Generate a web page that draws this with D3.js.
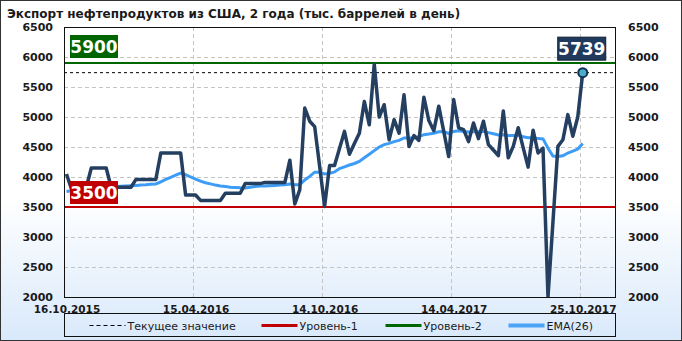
<!DOCTYPE html>
<html>
<head>
<meta charset="utf-8">
<script src="https://cdn.jsdelivr.net/npm/d3@7"></script>
<style>
  body { margin: 0; background: #fff; }
  text { font-family: 'DejaVu Sans', sans-serif; }
</style>
</head>
<body>
<div id="chart"></div>
<script>
// weekly export values, thousand barrels per day
const exportValues = [
  4050, 3800, 3830, 3830, 3830, 4150, 4150, 4150, 4150, 3830,
  3830, 3830, 3830, 3830, 3960, 3960, 3960, 3960, 3960, 4400,
  4400, 4400, 4400, 4400, 3700, 3700, 3700, 3610, 3610, 3610,
  3610, 3610, 3730, 3730, 3730, 3730, 3890, 3890, 3890, 3890,
  3910, 3910, 3910, 3910, 3910, 4280, 3550, 3790, 5150, 4930,
  4840, 4180, 3510, 4190, 4190, 4475, 4760, 4380, 4560, 4730,
  5260, 4870, 5880, 5000, 5205, 4620, 4955, 4730, 5370, 4510,
  4690, 4610, 5330, 4940, 4770, 5180, 4760, 4340, 5290, 4820,
  4790, 4590, 4900, 4640, 4930, 4540, 4450, 4355, 5100, 4320,
  4510, 4820, 4490, 4165, 4780, 4400, 4480, 2000, 3250, 4510,
  4620, 5040, 4680, 5000, 5739
]

// EMA(26) as drawn on the chart
const emaValues = [
  3760, 3770, 3780, 3790, 3800, 3810, 3820, 3830, 3840, 3840,
  3840, 3845, 3850, 3855, 3860, 3865, 3870, 3880, 3885, 3920,
  3960, 3995, 4030, 4065, 4040, 4000, 3965, 3930, 3905, 3885,
  3865, 3850, 3840, 3830, 3825, 3820, 3818, 3830, 3840, 3850,
  3850, 3855, 3860, 3865, 3870, 3885, 3870, 3870, 3950, 4010,
  4080, 4080, 4050, 4060, 4085, 4140, 4170, 4200, 4225, 4260,
  4320, 4380, 4440, 4500, 4540, 4560, 4590, 4610, 4650, 4650,
  4650, 4670, 4705, 4715, 4730, 4755, 4760, 4725, 4760, 4770,
  4760, 4750, 4755, 4755, 4760, 4740, 4720, 4700, 4705, 4690,
  4690, 4700, 4670, 4655, 4660, 4640, 4635, 4480, 4350, 4340,
  4355, 4400, 4430, 4465, 4560
]

const tickIndex = [0, 26, 52, 78, 104]
const tickLabels = ['16.10.2015', '15.04.2016', '14.10.2016', '14.04.2017', '25.10.2017']
const yTicks = [2000, 2500, 3000, 3500, 4000, 4500, 5000, 5500, 6000, 6500]

const level1 = 3500
const level2 = 5900
const current = exportValues[exportValues.length - 1]

const title = 'Экспорт нефтепродуктов из США, 2 года (тыс. баррелей в день)'
const legendItems = ['Текущее значение', 'Уровень-1', 'Уровень-2', 'EMA(26)']

const W = 682
const H = 341
const margin = { top: 27, left: 64, right: 67, bottom: 44 }
const width = W - margin.left - margin.right
const height = H - margin.top - margin.bottom

const root = d3
  .select('#chart')
  .append('svg')
  .attr('width', W)
  .attr('height', H)

// background gradient
const grad = root
  .append('defs')
  .append('linearGradient')
  .attr('id', 'bg')
  .attr('x1', 0)
  .attr('y1', 0)
  .attr('x2', 0)
  .attr('y2', 1)
grad.append('stop').attr('offset', '0.58').attr('stop-color', '#ffffff')
grad.append('stop').attr('offset', '1').attr('stop-color', '#d9e9fb')

root
  .select('defs')
  .append('clipPath')
  .attr('id', 'plotclip')
  .append('rect')
  .attr('width', width)
  .attr('height', height + 1)

root
  .append('rect')
  .attr('x', 0.5)
  .attr('y', 0.5)
  .attr('width', W - 1)
  .attr('height', H - 1)
  .attr('fill', 'url(#bg)')
  .attr('stroke', '#333')

root
  .append('text')
  .attr('x', 7)
  .attr('y', 18)
  .attr('font-family', "'DejaVu Sans Condensed', 'DejaVu Sans', sans-serif")
  .attr('font-weight', 'bold')
  .attr('font-size', 12)
  .attr('fill', '#1a1a1a')
  .text(title)

const svg = root
  .append('g')
  .attr('transform', 'translate(' + margin.left + ',' + margin.top + ')')

// scales
const x = d3.scaleLinear().domain([0, 111]).range([0, width])
const y = d3.scaleLinear().domain([2000, 6500]).range([height, 0])
const px = i => x(i + 0.5)

// grid
svg
  .selectAll('.hgrid')
  .data(yTicks.slice(1, -1))
  .enter()
  .append('line')
  .attr('class', 'hgrid')
  .attr('x1', 0)
  .attr('x2', width)
  .attr('y1', d => Math.round(y(d)) + 0.5)
  .attr('y2', d => Math.round(y(d)) + 0.5)
  .attr('stroke', '#c4c4c4')
  .attr('stroke-dasharray', '4,3')

svg
  .selectAll('.vgrid')
  .data(tickIndex.slice(1))
  .enter()
  .append('line')
  .attr('class', 'vgrid')
  .attr('x1', d => Math.round(x(d)) + 0.5)
  .attr('x2', d => Math.round(x(d)) + 0.5)
  .attr('y1', 0)
  .attr('y2', height)
  .attr('stroke', '#c4c4c4')
  .attr('stroke-dasharray', '4,3')

// axes
const yFmt = d3.format('d')
const yLeft = svg
  .append('g')
  .call(d3.axisLeft(y).tickValues(yTicks).tickFormat(yFmt).tickSize(0).tickPadding(11))
const yRight = svg
  .append('g')
  .attr('transform', 'translate(' + width + ',0)')
  .call(d3.axisRight(y).tickValues(yTicks).tickFormat(yFmt).tickSize(0).tickPadding(13))
const xAxis = svg
  .append('g')
  .attr('transform', 'translate(0,' + height + ')')
  .call(
    d3
      .axisBottom(x)
      .tickValues(tickIndex.map(d => d + 0.5))
      .tickSize(0)
      .tickPadding(9)
      .tickFormat((d, i) => tickLabels[i])
  )

;[yLeft, yRight, xAxis].forEach(g => {
  g.select('.domain').remove()
  g.selectAll('text')
    .attr('font-family', "'DejaVu Sans', sans-serif")
    .attr('font-weight', 'bold')
    .attr('font-size', 11)
    .attr('fill', '#1a1a1a')
})
xAxis.selectAll('text').attr('font-size', 10.5)

// level lines
svg
  .append('line')
  .attr('x1', 0)
  .attr('x2', width)
  .attr('y1', y(current))
  .attr('y2', y(current))
  .attr('stroke', '#000')
  .attr('stroke-dasharray', '3,3')

svg
  .append('line')
  .attr('x1', 0)
  .attr('x2', width)
  .attr('y1', y(level1))
  .attr('y2', y(level1))
  .attr('stroke', '#c00000')
  .attr('stroke-width', 2)

svg
  .append('line')
  .attr('x1', 0)
  .attr('x2', width)
  .attr('y1', y(level2))
  .attr('y2', y(level2))
  .attr('stroke', '#006600')
  .attr('stroke-width', 2)

// series
const line = d3
  .line()
  .x((d, i) => px(i))
  .y(d => y(d))

const plot = svg.append('g').attr('clip-path', 'url(#plotclip)')

plot
  .append('path')
  .datum(emaValues)
  .attr('d', line)
  .attr('fill', 'none')
  .attr('stroke', '#3d9cf5')
  .attr('stroke-width', 3)

plot
  .append('path')
  .datum(exportValues)
  .attr('d', line)
  .attr('fill', 'none')
  .attr('stroke', '#243f60')
  .attr('stroke-width', 3.5)
  .attr('stroke-linejoin', 'round')

// plot frame
svg
  .append('rect')
  .attr('x', 0.5)
  .attr('y', 0.5)
  .attr('width', width)
  .attr('height', height)
  .attr('fill', 'none')
  .attr('stroke', '#111')

// last point marker
const lastI = exportValues.length - 1
svg
  .append('circle')
  .attr('cx', px(lastI))
  .attr('cy', y(current))
  .attr('r', 4.5)
  .attr('fill', '#4bacc6')
  .attr('stroke', '#10305a')
  .attr('stroke-width', 2)

// value tags
function tag(cx, cy, label, fill, border) {
  const g = svg.append('g')
  g.append('rect')
    .attr('x', cx - 24)
    .attr('y', cy - 11.5)
    .attr('width', 48)
    .attr('height', 23)
    .attr('fill', fill)
    .attr('stroke', border || 'none')
  g.append('text')
    .attr('x', cx)
    .attr('y', cy + 6)
    .attr('text-anchor', 'middle')
    .attr('font-family', "'Liberation Serif', serif")
    .attr('font-weight', 'bold')
    .attr('font-size', 17)
    .style('fill', '#fff')
    .text(label)
}
tag(30, y(level2) - 16.5, String(level2), '#006400')
tag(30, y(level1) - 14.5, String(level1), '#c00000')
tag(px(lastI) - 1, y(current) - 24, String(current), '#1f3a5c', '#0d1f33')

// legend
const legend = root.append('g').attr('transform', 'translate(64.5,313.5)')
legend
  .append('rect')
  .attr('width', 551)
  .attr('height', 23)
  .attr('fill', 'none')
  .attr('stroke', '#111')

const legendStyles = [
  { x: 25, color: '#000', width: 1, dash: '4,3' },
  { x: 197, color: '#c00000', width: 3, dash: null },
  { x: 321, color: '#006600', width: 3, dash: null },
  { x: 444, color: '#4aa3f7', width: 4, dash: null }
]
legendItems.forEach((name, i) => {
  const s = legendStyles[i]
  legend
    .append('line')
    .attr('x1', s.x)
    .attr('x2', s.x + 36)
    .attr('y1', 12)
    .attr('y2', 12)
    .attr('stroke', s.color)
    .attr('stroke-width', s.width)
    .attr('stroke-dasharray', s.dash)
  legend
    .append('text')
    .attr('x', s.x + 38)
    .attr('y', 16)
    .attr('font-size', 11)
    .attr('fill', '#1a1a1a')
    .text(name)
})
</script>
</body>
</html>
